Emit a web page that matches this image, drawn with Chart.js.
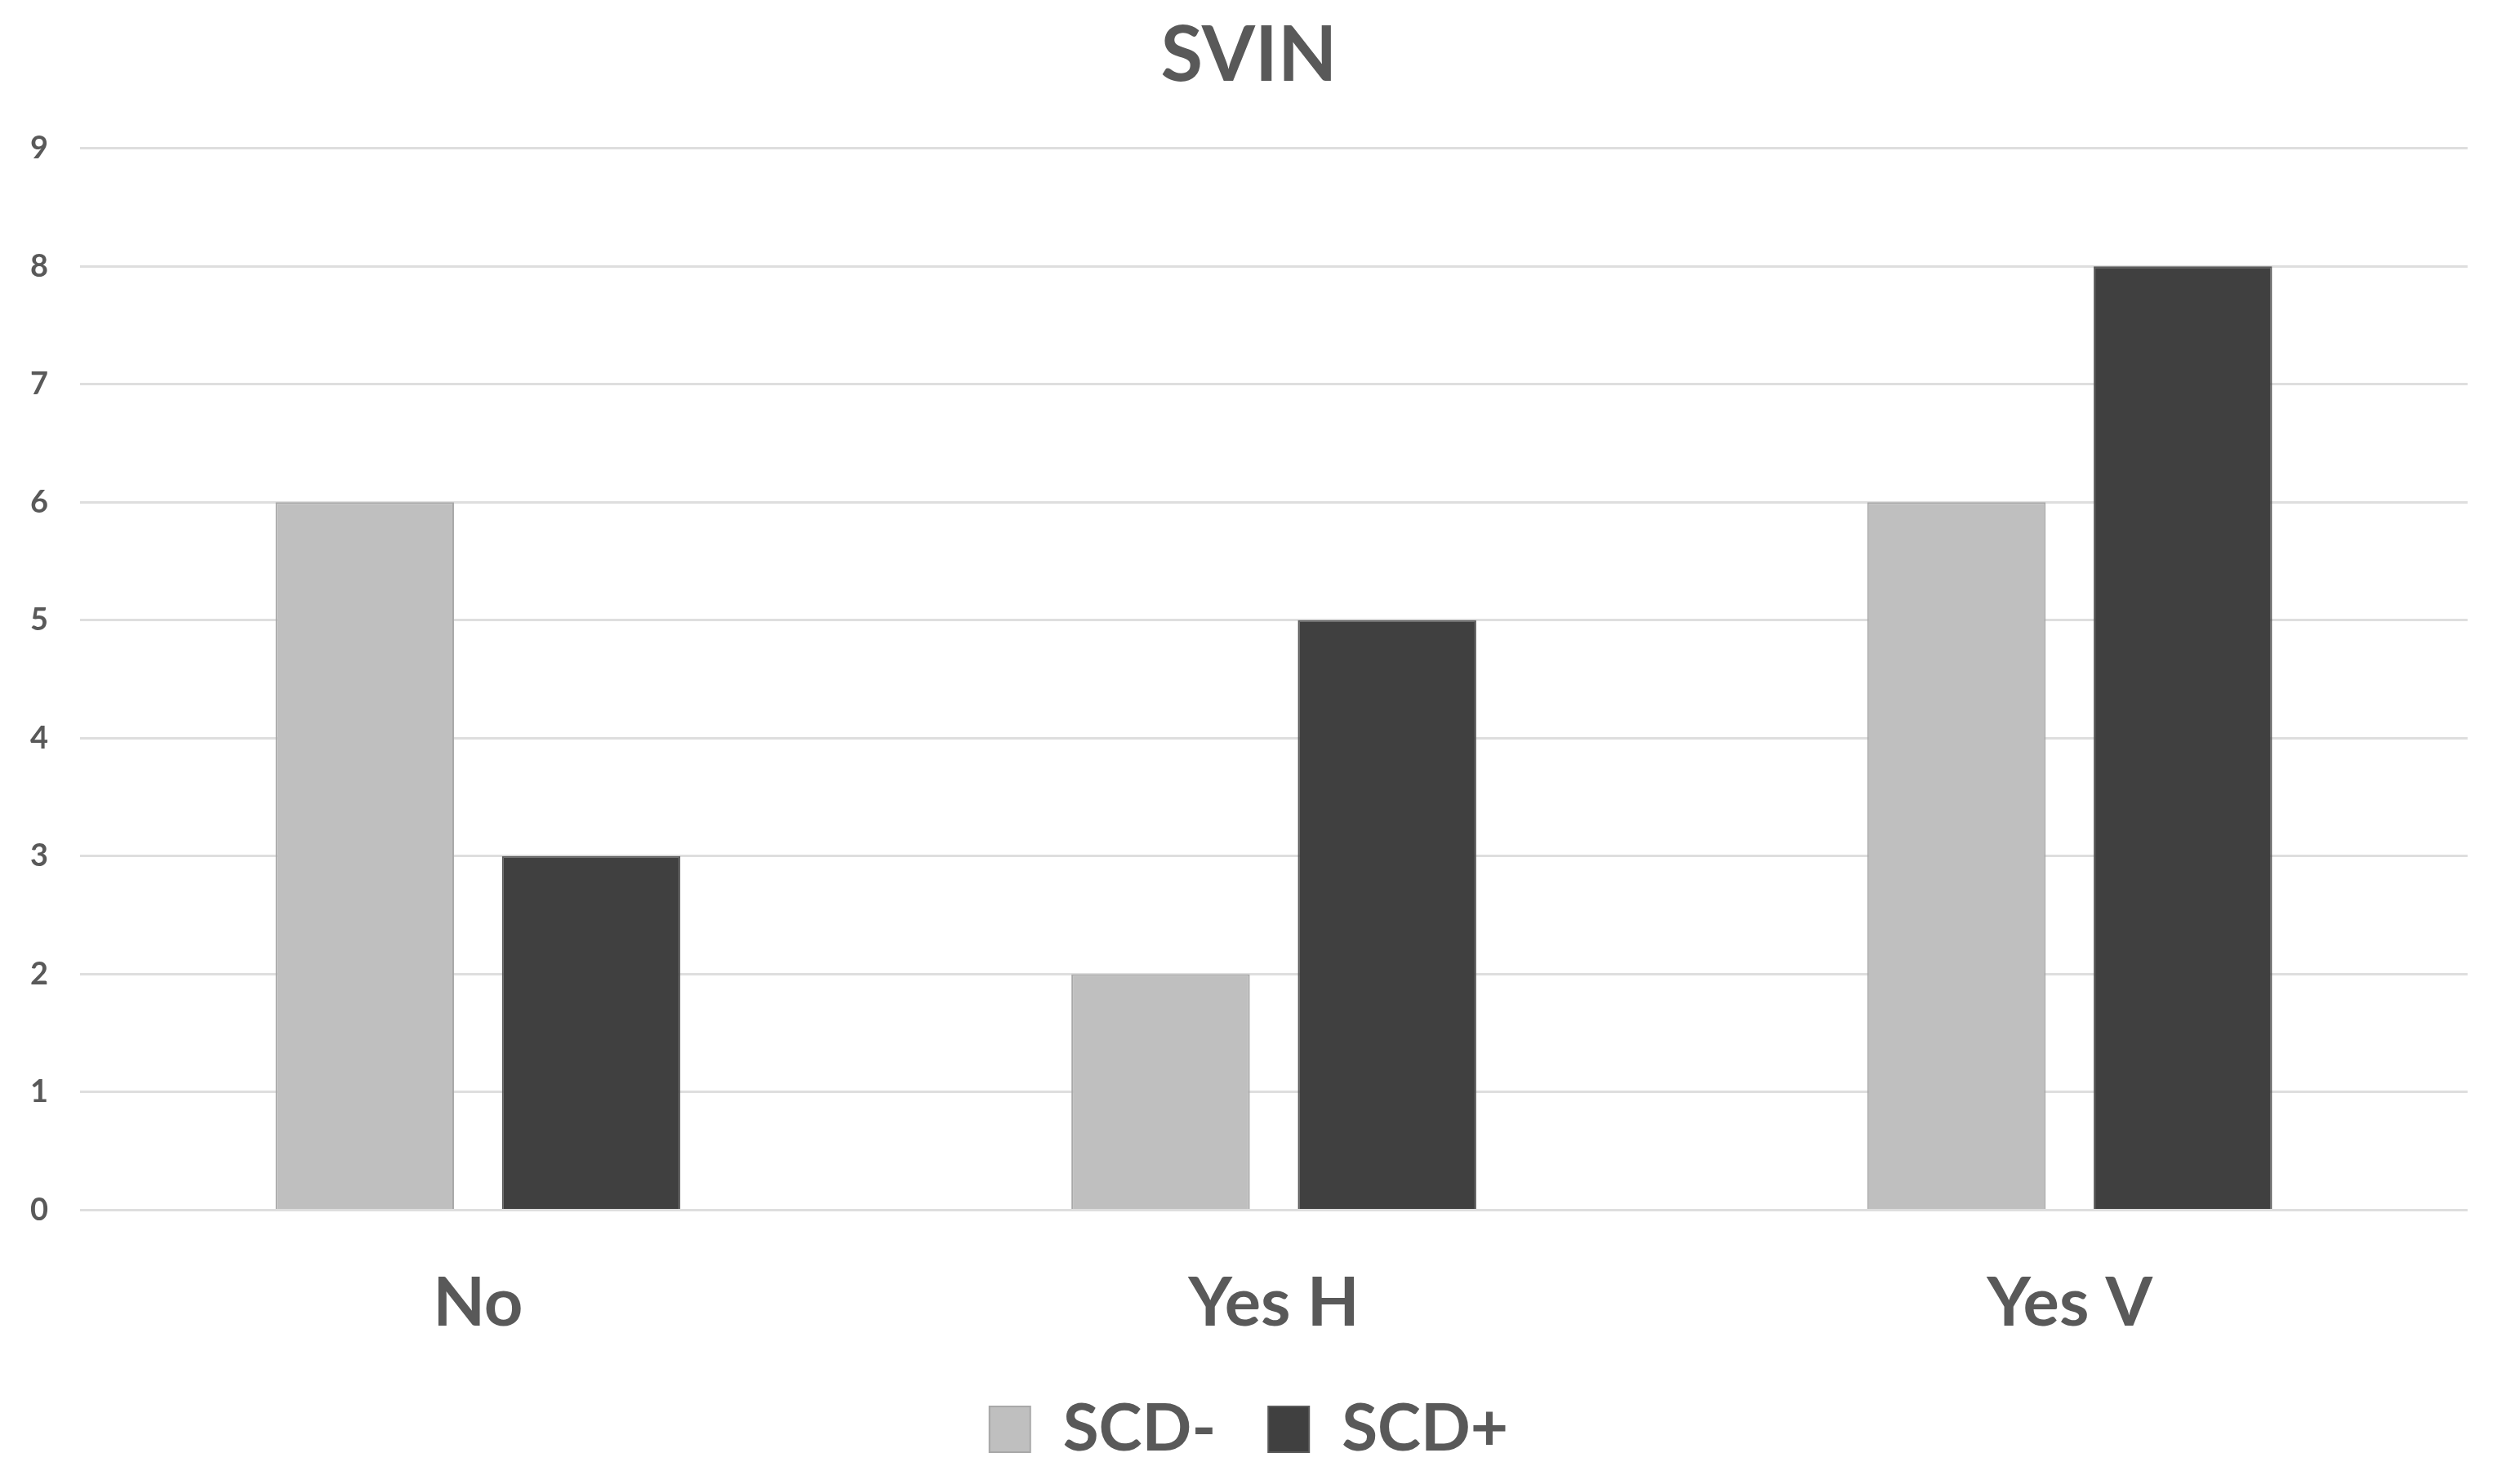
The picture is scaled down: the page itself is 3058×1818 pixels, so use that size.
<!DOCTYPE html>
<html>
<head>
<meta charset="utf-8">
<script src="https://cdn.jsdelivr.net/npm/chart.js@4/dist/chart.umd.min.js"></script>
<style>
  html, body { margin: 0; padding: 0; background: #fff; }
  #wrap { width: 3058px; height: 1818px; }
</style>
</head>
<body>
<div id="wrap"><canvas id="grafico"></canvas></div>
<script>
// dados
const categorias = ['No', 'Yes H', 'Yes V'];
const scdMenos = [6, 2, 6];
const scdMais = [3, 5, 8];
const yMin = 0;
const yMax = 9;

const corTexto = '#595959';
const fonte = 'Lato';

// obs: o chart.js conta o ticks.padding duas vezes na altura/largura do eixo,
// por isso o espaço até os labels vai no tickLength (invisível)
const ctx = document.getElementById('grafico');
let grafico = new Chart(ctx, {
    type: 'bar',
    data: {
        labels: categorias,
        datasets: [
            {
                label: 'SCD-',
                data: scdMenos,
                backgroundColor: '#bfbfbf',
                borderColor: '#a8a8a8',
                borderWidth: 2
            },
            {
                label: 'SCD+',
                data: scdMais,
                backgroundColor: '#404040',
                borderColor: '#5a5a5a',
                borderWidth: 2
            }
        ]
    },
    options: {
        responsive: true,
        maintainAspectRatio: false,
        animation: false,
        categoryPercentage: 0.569,
        barPercentage: 0.788,
        layout: {
            padding: { left: 37, right: 36, top: 0, bottom: 17 }
        },
        plugins: {
            title: {
                display: true,
                text: 'SVIN',
                color: corTexto,
                font: { family: fonte, size: 94, weight: 'bold' },
                padding: { top: 12, bottom: 57 }
            },
            legend: {
                position: 'bottom',
                labels: {
                    color: corTexto,
                    font: { family: fonte, size: 80, weight: 'bold' },
                    boxWidth: 50,
                    boxHeight: 56,
                    padding: 64
                }
            },
            tooltip: { enabled: false }
        },
        scales: {
            x: {
                grid: { display: false, tickLength: 65 },
                border: { display: false },
                ticks: {
                    color: corTexto,
                    font: { family: fonte, size: 83, weight: 'bold' },
                    padding: 0
                }
            },
            y: {
                min: yMin,
                max: yMax,
                grid: { color: '#dedede', lineWidth: 3, drawTicks: true, tickLength: 39, tickColor: 'rgba(0,0,0,0)' },
                border: { display: false },
                ticks: {
                    stepSize: 1,
                    color: corTexto,
                    font: { family: fonte, size: 38, weight: 'bold' },
                    padding: 0
                }
            }
        }
    }
});
</script>
</body>
</html>
